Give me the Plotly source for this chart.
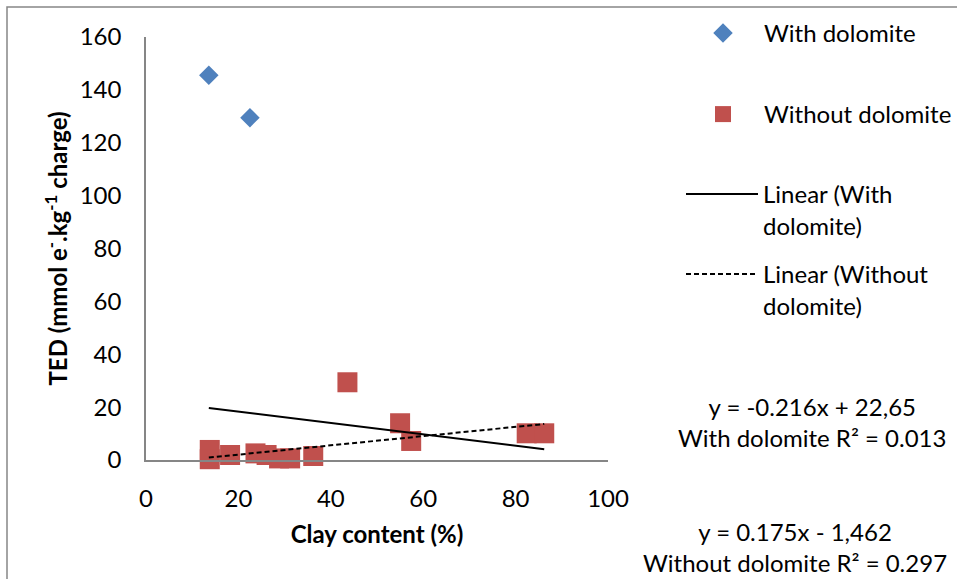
import numpy as np
import plotly.graph_objects as go

# Clay content (%) and TED (mmol e-.kg-1 charge)
with_clay = [13.6, 22.5]
with_ted = [145.5, 129.5]

without_clay = [13.8, 13.8, 18.2, 23.7, 26.1, 28.8, 31.2, 36.2, 43.6, 55.0, 57.4, 82.4, 86.2]
without_ted = [3.8, 0.3, 1.9, 2.5, 1.9, 0.6, 0.6, 1.5, 29.4, 13.9, 7.2, 10.1, 10.1]

# Linear trend equations (slope, intercept)
with_fit = (-0.216, 22.65)
without_fit = (0.175, -1.462)

x_ticks = [0, 20, 40, 60, 80, 100]
y_ticks = [0, 20, 40, 60, 80, 100, 120, 140, 160]

FONT = "Lato"
FS = 24
BLUE = "#4F81BD"
RED = "#C0504D"
AXIS = "#868686"

W, H = 957, 579
L, R, T, B = 146, 349, 37, 119
PW, PH = W - L - R, H - T - B


def px_x(p):
    return (p - L) / PW


def px_y(p):
    return (H - B - p) / PH


all_x = np.array(with_clay + without_clay)
trend_x = np.array([all_x.min(), all_x.max()])

fig = go.Figure()
fig.add_trace(go.Scatter(
    x=with_clay, y=with_ted, mode="markers", name="With dolomite",
    marker=dict(symbol="diamond", size=15, color=BLUE),
    cliponaxis=False, legend="legend"))
fig.add_trace(go.Scatter(
    x=without_clay, y=without_ted, mode="markers", name="Without dolomite",
    marker=dict(symbol="square", size=20, color=RED),
    cliponaxis=False, legend="legend2"))
fig.add_trace(go.Scatter(
    x=trend_x, y=with_fit[0] * trend_x + with_fit[1], mode="lines",
    name="Linear (With<br>dolomite)",
    line=dict(color="black", width=2),
    legend="legend3"))
fig.add_trace(go.Scatter(
    x=trend_x, y=without_fit[0] * trend_x + without_fit[1], mode="lines",
    name="Linear (Without<br>dolomite)",
    line=dict(color="black", width=2, dash="5px,3px"),
    legend="legend4"))

legend_font = dict(family=FONT, size=FS, color="black")


def legend_at(px_left, px_top):
    return dict(x=px_x(px_left), y=px_y(px_top), xanchor="left", yanchor="top",
                font=legend_font, itemwidth=72, valign="top",
                bgcolor="rgba(0,0,0,0)", borderwidth=0)


fig.update_layout(
    width=W, height=H,
    margin=dict(l=L, r=R, t=T, b=B, autoexpand=False),
    paper_bgcolor="white", plot_bgcolor="white",
    font=dict(family=FONT, size=FS, color="black"),
    showlegend=True,
    legend=legend_at(682, 11),
    legend2=legend_at(682, 92),
    legend3=legend_at(681, 172),
    legend4=legend_at(681, 252),
    xaxis=dict(
        range=[0, 100], tickvals=x_ticks, showgrid=False, zeroline=False,
        showline=True, linecolor=AXIS, linewidth=1.5, ticks="",
        ticklabelstandoff=16,
        title=dict(text="<b>Clay content (%)</b>", font=dict(family=FONT, size=FS),
                   standoff=16),
    ),
    yaxis=dict(
        range=[0, 160], tickvals=y_ticks, showgrid=False, zeroline=False,
        showline=True, linecolor=AXIS, linewidth=1.5, ticks="",
        ticklabelstandoff=18,
        title=dict(text="<b>TED (mmol e<sup>-</sup>.kg<sup>-1</sup> charge)</b>",
                   font=dict(family=FONT, size=FS), standoff=5),
    ),
    shapes=[dict(type="rect", xref="paper", yref="paper",
                 x0=px_x(7), x1=px_x(990), y0=px_y(620), y1=px_y(7),
                 line=dict(color=AXIS, width=1.5), fillcolor="rgba(0,0,0,0)",
                 layer="below")],
)

eq_font = dict(family=FONT, size=FS, color="black")
equations = [
    (f"y = {with_fit[0]}x + 22,65<br>With dolomite R² = 0.013", 948, 422),
    (f"y = {without_fit[0]}x - 1,462<br>Without dolomite R² = 0.297", 949, 547),
]
for text, right_px, mid_px in equations:
    fig.add_annotation(text=text, xref="paper", yref="paper",
                       x=px_x(right_px), y=px_y(mid_px), xanchor="right", yanchor="middle",
                       align="center", showarrow=False, font=eq_font)

fig.write_html("out.html")
